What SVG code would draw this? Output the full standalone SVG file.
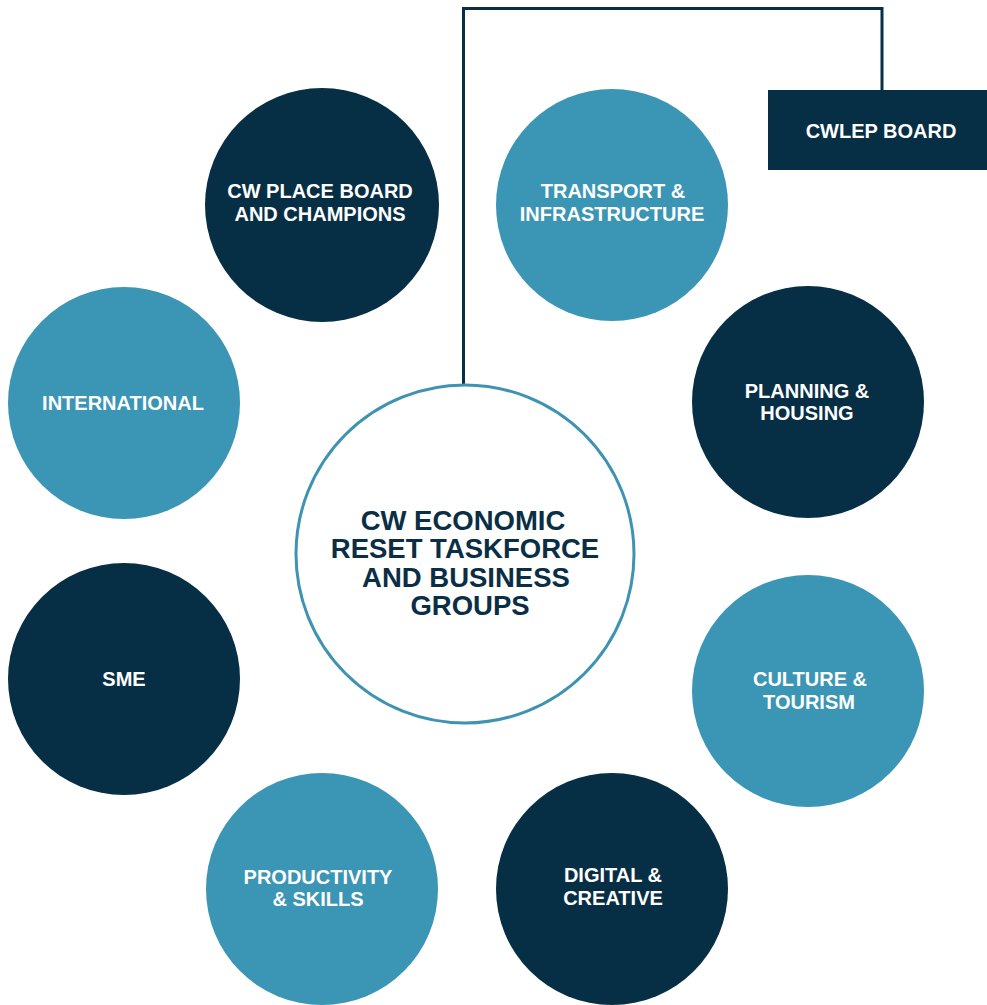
<svg xmlns="http://www.w3.org/2000/svg" width="987" height="1005" viewBox="0 0 987 1005">
<style>
.dark{fill:#062e45}
.teal{fill:#3b95b4}
.lbl{font-family:"Liberation Sans",Arial,sans-serif;font-weight:bold;font-size:20px;fill:#ffffff;text-anchor:middle}
.ctr{font-family:"Liberation Sans",Arial,sans-serif;font-weight:bold;font-size:27.5px;fill:#0a2e45;text-anchor:middle}
.conn{fill:none;stroke:#0a2e45;stroke-width:3}
</style>
<rect width="987" height="1005" fill="#ffffff"/>
<g id="connectors">
<path class="conn" d="M463.5,386 V8.5 H882 V92"/>
</g>
<g id="cwlep-board">
<rect class="dark" x="768" y="90" width="219" height="80"/>
<text class="lbl" x="881" y="138">CWLEP BOARD</text>
</g>
<g id="center">
<circle cx="465" cy="554" r="169" fill="#ffffff" stroke="#3f93b2" stroke-width="3"/>
<text class="ctr" x="463" y="530">CW ECONOMIC</text>
<text class="ctr" x="465" y="558">RESET TASKFORCE</text>
<text class="ctr" x="466" y="587">AND BUSINESS</text>
<text class="ctr" x="470" y="615">GROUPS</text>
</g>
<g id="place-board">
<circle class="dark" cx="322" cy="205" r="117"/>
<text class="lbl" x="320" y="198">CW PLACE BOARD</text>
<text class="lbl" x="320" y="221">AND CHAMPIONS</text>
</g>
<g id="transport">
<circle class="teal" cx="612" cy="205" r="116"/>
<text class="lbl" x="613" y="198">TRANSPORT &amp;</text>
<text class="lbl" x="612" y="221">INFRASTRUCTURE</text>
</g>
<g id="international">
<circle class="teal" cx="124" cy="403" r="116"/>
<text class="lbl" x="123" y="410">INTERNATIONAL</text>
</g>
<g id="planning">
<circle class="dark" cx="808" cy="402" r="116"/>
<text class="lbl" x="807" y="398">PLANNING &amp;</text>
<text class="lbl" x="807" y="420">HOUSING</text>
</g>
<g id="sme">
<circle class="dark" cx="124" cy="679" r="116"/>
<text class="lbl" x="124" y="686">SME</text>
</g>
<g id="culture">
<circle class="teal" cx="808" cy="691" r="116"/>
<text class="lbl" x="810" y="686">CULTURE &amp;</text>
<text class="lbl" x="809" y="709">TOURISM</text>
</g>
<g id="productivity">
<circle class="teal" cx="322" cy="889" r="116"/>
<text class="lbl" x="318" y="884">PRODUCTIVITY</text>
<text class="lbl" x="318" y="906">&amp; SKILLS</text>
</g>
<g id="digital">
<circle class="dark" cx="612" cy="889" r="116"/>
<text class="lbl" x="613" y="882">DIGITAL &amp;</text>
<text class="lbl" x="613" y="905">CREATIVE</text>
</g>
</svg>
